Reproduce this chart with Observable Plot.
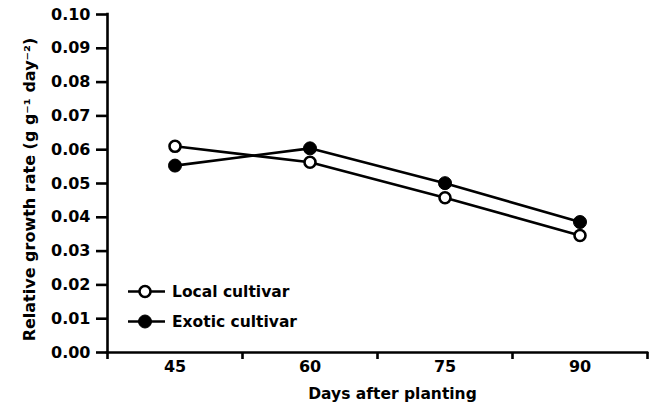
<!DOCTYPE html>
<html>
<head>
<meta charset="utf-8">
<script src="https://cdn.jsdelivr.net/npm/d3@7"></script>
<script src="https://cdn.jsdelivr.net/npm/@observablehq/plot@0.6"></script>
<style>
  html, body { margin: 0; padding: 0; background: #fff; }
  #wrap { position: relative; width: 654px; height: 404px; }
  #wrap svg.plot { display: block; }
  #legend { position: absolute; left: 127px; top: 281px; font-family: "DejaVu Sans", sans-serif; font-weight: bold; font-size: 15.5px; color: #000; }
  #legend .row { display: flex; align-items: center; height: 21px; margin-bottom: 9px; }
  #legend svg { display: block; margin-right: 5px; }
</style>
</head>
<body>
<div id="wrap"></div>
<script>
// ---- data ----
const days = [45, 60, 75, 90];
const localCultivar = [0.0610, 0.0563, 0.0458, 0.0346];
const exoticCultivar = [0.0553, 0.0604, 0.0501, 0.0386];
const seriesNames = ["Local cultivar", "Exotic cultivar"];
const yTicks = [0, 0.01, 0.02, 0.03, 0.04, 0.05, 0.06, 0.07, 0.08, 0.09, 0.10];
const xBoundaryTicks = [37.5, 52.5, 67.5, 82.5, 97.5];
const xLabel = "Days after planting";
const yLabel = "Relative growth rate (g g\u207B\u00B9 day\u207B\u00B2)";

const localRows = days.map((d, i) => ({day: d, value: localCultivar[i]}));
const exoticRows = days.map((d, i) => ({day: d, value: exoticCultivar[i]}));

const sw = 2.6;
const chart = Plot.plot({
  width: 654,
  height: 404,
  marginLeft: 107,
  marginRight: 7,
  marginTop: 14,
  marginBottom: 52,
  style: {fontFamily: "DejaVu Sans, sans-serif", fontSize: "16px", fontWeight: "bold", color: "#000", background: "#fff"},
  x: {domain: [xBoundaryTicks[0], xBoundaryTicks[xBoundaryTicks.length - 1]], axis: null},
  y: {domain: [0, 0.10], axis: null},
  marks: [
    Plot.axisY({ticks: yTicks, tickFormat: d3.format(".2f"), tickSize: 11, tickPadding: 6, strokeWidth: sw, label: null, fontSize: 16}),
    Plot.axisX({ticks: xBoundaryTicks, tickFormat: () => "", tickSize: 7, strokeWidth: sw, label: null}),
    Plot.axisX({ticks: days, tickFormat: d3.format("d"), tickSize: 0, tickPadding: 8, label: null, fontSize: 16}),
    Plot.ruleX([xBoundaryTicks[0]], {stroke: "black", strokeWidth: sw, strokeLinecap: "square"}),
    Plot.ruleY([0], {stroke: "black", strokeWidth: sw, strokeLinecap: "square"}),
    Plot.text([xLabel], {frameAnchor: "bottom", dx: 15, dy: 35, lineAnchor: "top", fontSize: 15.5, fontWeight: "bold"}),
    Plot.text([yLabel], {frameAnchor: "left", textAnchor: "middle", rotate: -90, dx: -78, dy: 6, lineAnchor: "middle", fontSize: 16, fontWeight: "bold"}),
    Plot.line(exoticRows, {x: "day", y: "value", stroke: "black", strokeWidth: sw}),
    Plot.line(localRows, {x: "day", y: "value", stroke: "black", strokeWidth: sw}),
    Plot.dot(exoticRows, {x: "day", y: "value", r: 6.5, fill: "black", stroke: "black", strokeWidth: 1}),
    Plot.dot(localRows, {x: "day", y: "value", r: 5.5, fill: "white", stroke: "black", strokeWidth: sw})
  ]
});
chart.classList.add("plot");
const wrap = document.getElementById("wrap");
wrap.appendChild(chart);

// legend
const legend = document.createElement("div");
legend.id = "legend";
const styles = [
  {fill: "white", r: 5.5, sw: sw},
  {fill: "black", r: 6.5, sw: 1}
];
seriesNames.forEach((name, i) => {
  const row = document.createElement("div");
  row.className = "row";
  const s = styles[i];
  row.innerHTML = `<svg width="40" height="21"><line x1="1" x2="38" y1="10.5" y2="10.5" stroke="black" stroke-width="${sw}"/><circle cx="18" cy="10.5" r="${s.r}" fill="${s.fill}" stroke="black" stroke-width="${s.sw}"/></svg><span>${name}</span>`;
  legend.appendChild(row);
});
wrap.appendChild(legend);
</script>
</body>
</html>
